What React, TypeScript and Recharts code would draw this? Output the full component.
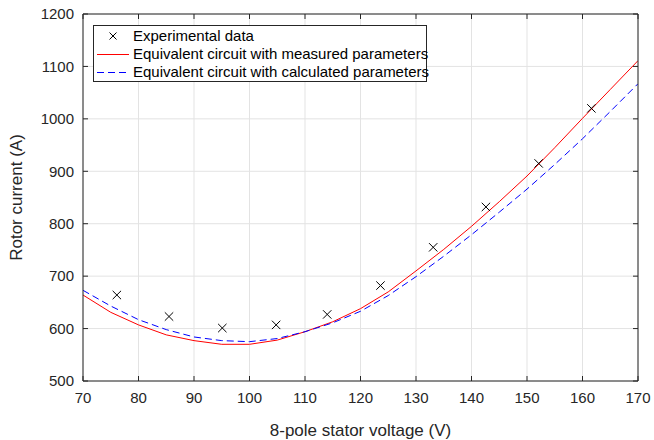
import React from "react"
import {
  CartesianGrid,
  ComposedChart,
  Label,
  Line,
  Scatter,
  XAxis,
  YAxis,
} from "recharts"

// stator voltage (V) for the experimental points
const expVoltage = [76.1, 85.5, 95.1, 104.8, 114, 123.6, 133.1, 142.6, 152.1, 161.6]
const expCurrent = [664, 623, 601, 607, 627, 682, 755, 832, 915, 1020]

// model curves, sampled every 5 V
const modelVoltage = [70, 75, 80, 85, 90, 95, 100, 105, 110, 115, 120, 125, 130, 135, 140, 145, 150, 155, 160, 165, 170]
const measuredCurrent = [664, 631, 607, 588, 577, 570, 570, 578, 594, 613, 638, 670, 710, 751, 795, 842, 891, 945, 1001, 1056, 1111]
const calculatedCurrent = [673, 643, 617, 598, 584, 577, 575, 581, 594, 611, 633, 663, 699, 738, 779, 822, 866, 913, 962, 1014, 1067]

const xTicks = [70, 80, 90, 100, 110, 120, 130, 140, 150, 160, 170]
const yTicks = [500, 600, 700, 800, 900, 1000, 1100, 1200]

const expData = expVoltage.map((v, k) => ({ v, i: expCurrent[k] }))
const measuredData = modelVoltage.map((v, k) => ({ v, i: measuredCurrent[k] }))
const calculatedData = modelVoltage.map((v, k) => ({ v, i: calculatedCurrent[k] }))

const axisColor = "#262626"
const font = "'Liberation Sans', Arial, Helvetica, sans-serif"
const TICK = 5

const Cross = (props: any) => {
  const { cx, cy } = props
  const r = 4.2
  return (
    <g stroke="#000" strokeWidth={1}>
      <line x1={cx - r} y1={cy - r} x2={cx + r} y2={cy + r} />
      <line x1={cx - r} y1={cy + r} x2={cx + r} y2={cy - r} />
    </g>
  )
}

// MATLAB style: tick marks point into the plot
const BottomTick = (props: any) => {
  const { x, y, payload } = props
  const ay = y - 11
  return (
    <g>
      <line x1={x} y1={ay} x2={x} y2={ay - TICK} stroke={axisColor} />
      <text x={x} y={y} dy="0.71em" textAnchor="middle" fill={axisColor} fontSize={15} fontFamily={font}>
        {payload.value}
      </text>
    </g>
  )
}

const LeftTick = (props: any) => {
  const { x, y, payload } = props
  const ax = x + 9
  return (
    <g>
      <line x1={ax} y1={y} x2={ax + TICK} y2={y} stroke={axisColor} />
      <text x={x} y={y} dy="0.355em" textAnchor="end" fill={axisColor} fontSize={15} fontFamily={font}>
        {payload.value}
      </text>
    </g>
  )
}

const TopTick = (props: any) => {
  const { x, y } = props
  return <line x1={x} y1={y} x2={x} y2={y + TICK} stroke={axisColor} />
}

const RightTick = (props: any) => {
  const { x, y } = props
  return <line x1={x} y1={y} x2={x - TICK} y2={y} stroke={axisColor} />
}

const LegendBox = () => (
  <div
    style={{
      position: "absolute",
      left: 93,
      top: 25,
      width: 332,
      height: 55,
      border: `1px solid ${axisColor}`,
      background: "#fff",
      fontFamily: font,
      fontSize: 15,
      color: "#000",
    }}
  >
    <svg width={40} height={55} style={{ position: "absolute", left: 0, top: 0 }}>
      <g stroke="#000" strokeWidth={1}>
        <line x1={15.5} y1={6.5} x2={22.5} y2={13.5} />
        <line x1={15.5} y1={13.5} x2={22.5} y2={6.5} />
      </g>
      <line x1={3} y1={28.5} x2={35} y2={28.5} stroke="#ff0000" strokeWidth={1} />
      <line x1={3} y1={46.5} x2={35} y2={46.5} stroke="#0000ff" strokeWidth={1} strokeDasharray="7 4" />
    </svg>
    <div style={{ position: "absolute", left: 39, top: 1, lineHeight: "18px", whiteSpace: "nowrap" }}>
      <div>Experimental data</div>
      <div>Equivalent circuit with measured parameters</div>
      <div>Equivalent circuit with calculated parameters</div>
    </div>
  </div>
)

export default function App() {
  return (
    <div style={{ position: "absolute", left: 0, top: 0, width: 654, height: 440, background: "#fff" }}>
      <ComposedChart width={654} height={440} margin={{ top: 13, right: 15, bottom: 0, left: 0 }}>
        <CartesianGrid stroke="#e3e3e3" strokeWidth={1} />
        <XAxis
          type="number"
          dataKey="v"
          domain={[70, 170]}
          ticks={xTicks}
          allowDataOverflow
          height={59}
          tickLine={false}
          tickSize={0}
          tickMargin={11}
          stroke={axisColor}
          tick={<BottomTick />}
        >
          <Label
            value="8-pole stator voltage (V)"
            position="insideBottom"
            offset={4}
            style={{ fill: axisColor, fontSize: 17, fontFamily: font }}
          />
        </XAxis>
        <XAxis
          xAxisId="t"
          orientation="top"
          type="number"
          dataKey="v"
          domain={[70, 170]}
          ticks={xTicks}
          allowDataOverflow
          height={1}
          tickLine={false}
          tickSize={0}
          tickMargin={0}
          tick={<TopTick />}
          stroke={axisColor}
        />
        <YAxis
          type="number"
          dataKey="i"
          domain={[500, 1200]}
          ticks={yTicks}
          allowDataOverflow
          width={83}
          tickLine={false}
          tickSize={0}
          tickMargin={9}
          stroke={axisColor}
          tick={<LeftTick />}
        >
          <Label
            value="Rotor current (A)"
            angle={-90}
            position="insideLeft"
            offset={16}
            style={{ fill: axisColor, fontSize: 17, fontFamily: font, textAnchor: "middle" }}
          />
        </YAxis>
        <YAxis
          yAxisId="r"
          orientation="right"
          type="number"
          dataKey="i"
          domain={[500, 1200]}
          ticks={yTicks}
          allowDataOverflow
          width={1}
          tickLine={false}
          tickSize={0}
          tickMargin={0}
          tick={<RightTick />}
          stroke={axisColor}
        />
        <Line
          data={measuredData}
          dataKey="i"
          type="linear"
          stroke="#ff0000"
          strokeWidth={1}
          dot={false}
          activeDot={false}
          isAnimationActive={false}
        />
        <Line
          data={calculatedData}
          dataKey="i"
          type="linear"
          stroke="#0000ff"
          strokeWidth={1}
          strokeDasharray="7 4"
          dot={false}
          activeDot={false}
          isAnimationActive={false}
        />
        <Scatter data={expData} dataKey="i" shape={Cross} isAnimationActive={false} />
      </ComposedChart>
      <LegendBox />
    </div>
  )
}
